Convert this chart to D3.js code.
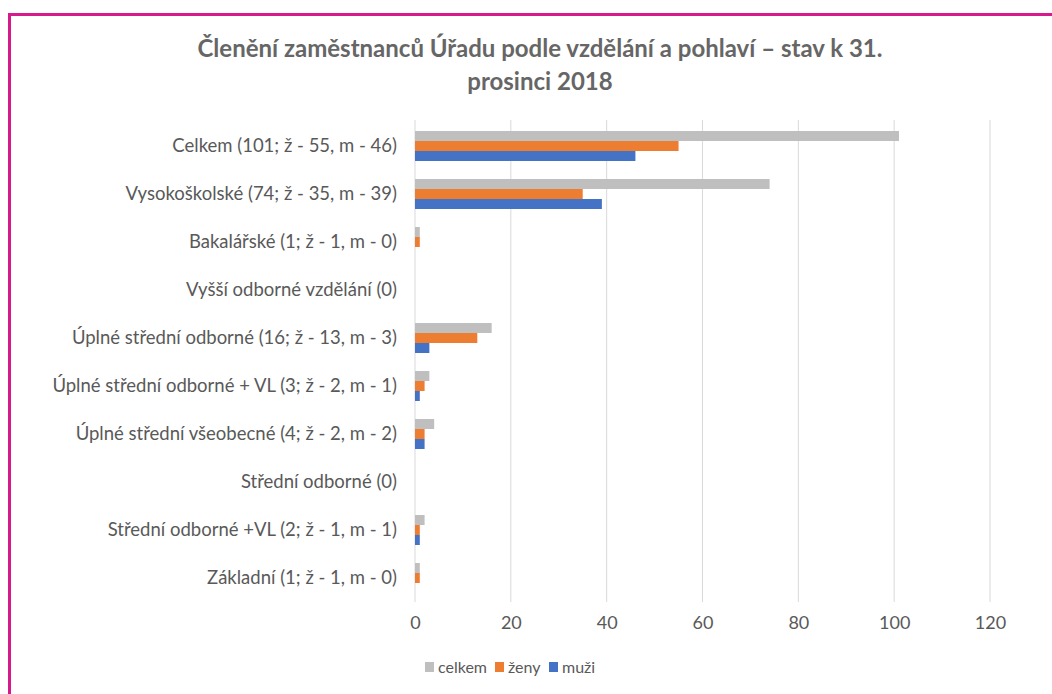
<!DOCTYPE html>
<html>
<head>
<meta charset="utf-8">
<script src="https://cdn.jsdelivr.net/npm/d3@7"></script>
<style>
  body { margin: 0; background: #fff; }
  svg { display: block; font-family: Lato, "Open Sans", sans-serif; }
</style>
</head>
<body>
<svg id="chart" width="1052" height="694"></svg>
<script>
// data
var categories = [
  "Celkem (101; ž - 55, m - 46)",
  "Vysokoškolské (74; ž - 35, m - 39)",
  "Bakalářské (1; ž - 1, m - 0)",
  "Vyšší odborné vzdělání (0)",
  "Úplné střední odborné (16; ž - 13, m - 3)",
  "Úplné střední odborné + VL (3; ž - 2, m - 1)",
  "Úplné střední všeobecné (4; ž - 2, m - 2)",
  "Střední odborné (0)",
  "Střední odborné +VL (2; ž - 1, m - 1)",
  "Základní (1; ž - 1, m - 0)"
];
var celkem = [101, 74, 1, 0, 16, 3, 4, 0, 2, 1];
var zeny   = [55, 35, 1, 0, 13, 2, 2, 0, 1, 1];
var muzi   = [46, 39, 0, 0, 3, 1, 2, 0, 1, 0];
var seriesNames = ["celkem", "ženy", "muži"];
var seriesColors = ["#bfbfbf", "#ed7d31", "#4472c4"];
var xTicks = [0, 20, 40, 60, 80, 100, 120];

var svg = d3.select("#chart");

// magenta frame
svg.append("rect")
  .attr("x", 9.5).attr("y", 14.5)
  .attr("width", 1060).attr("height", 700)
  .attr("fill", "none")
  .attr("stroke", "#d6198c")
  .attr("stroke-width", 3);

var title = svg.append("text")
  .attr("text-anchor", "middle")
  .attr("fill", "#666666")
  .attr("font-size", 24)
  .attr("font-weight", "bold");
title.append("tspan").attr("x", 540).attr("y", 57)
  .text("Členění zaměstnanců Úřadu podle vzdělání a pohlaví – stav k 31.");
title.append("tspan").attr("x", 540).attr("y", 90)
  .text("prosinci 2018");

var x = d3.scaleLinear().domain([0, 120]).range([415, 990]);
var y = d3.scaleBand().domain(categories).range([122, 602]).paddingInner(0.375).paddingOuter(0.1875);
var ySub = d3.scaleBand().domain(seriesNames).range([0, y.bandwidth()]);

// grid
svg.append("g").selectAll("line").data(xTicks).join("line")
  .attr("x1", d => x(d)).attr("x2", d => x(d))
  .attr("y1", 120).attr("y2", 602)
  .attr("stroke", "#d9d9d9").attr("stroke-width", 1);

// axes
var xAxis = d3.axisBottom(x).tickValues(xTicks).tickSize(0).tickPadding(10);
var gx = svg.append("g").attr("transform", "translate(0,606)").call(xAxis);
gx.select(".domain").remove();
gx.selectAll("text").attr("fill", "#595959").attr("font-size", 18).attr("font-family", "Lato, sans-serif");

var yAxis = d3.axisLeft(y).tickSize(0).tickPadding(18);
var gy = svg.append("g").attr("transform", "translate(415,0)").call(yAxis);
gy.select(".domain").remove();
gy.selectAll("text").attr("fill", "#595959").attr("font-size", 18.5).attr("font-family", "Lato, sans-serif");

// bars
var allSeries = [celkem, zeny, muzi];
allSeries.forEach(function (vals, si) {
  svg.append("g").selectAll("rect").data(vals).join("rect")
    .attr("x", x(0))
    .attr("y", (d, i) => y(categories[i]) + ySub(seriesNames[si]))
    .attr("width", d => x(d) - x(0))
    .attr("height", ySub.bandwidth())
    .attr("fill", seriesColors[si]);
});

// legend
var legendX = [425, 495, 549];
var leg = svg.append("g").selectAll("g").data(seriesNames).join("g")
  .attr("transform", (d, i) => "translate(" + legendX[i] + ",662)");
leg.append("rect").attr("width", 9).attr("height", 10)
  .attr("fill", (d, i) => seriesColors[i]);
leg.append("text").attr("x", 13).attr("y", 11)
  .attr("fill", "#595959").attr("font-size", 16)
  .text(d => d);
</script>
</body>
</html>
